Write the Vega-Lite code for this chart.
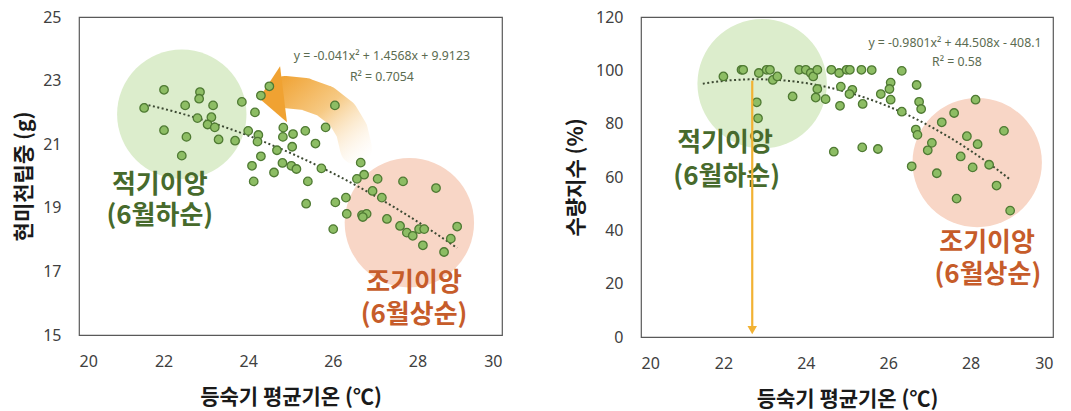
{
  "$schema": "https://vega.github.io/schema/vega-lite/v6.json",
  "background": "white",
  "autosize": {"type": "pad"},
  "padding": {"left": 13, "top": 8, "right": 5, "bottom": 5},
  "bounds": "flush",
  "spacing": 139,
  "datasets": {
    "grainPts": [
      {"temp": 21.54, "grain": 22.14}, {"temp": 22.01, "grain": 22.71}, {"temp": 22.86, "grain": 22.64}, {"temp": 22.84, "grain": 22.43},
      {"temp": 22.51, "grain": 22.22}, {"temp": 23.17, "grain": 22.22}, {"temp": 23.85, "grain": 22.33}, {"temp": 24.50, "grain": 22.82},
      {"temp": 24.30, "grain": 22.53}, {"temp": 24.16, "grain": 22.00}, {"temp": 22.80, "grain": 21.82}, {"temp": 23.13, "grain": 21.85},
      {"temp": 23.04, "grain": 21.62}, {"temp": 23.21, "grain": 21.53}, {"temp": 22.01, "grain": 21.44}, {"temp": 22.54, "grain": 21.23},
      {"temp": 23.30, "grain": 21.15}, {"temp": 23.69, "grain": 21.11}, {"temp": 24.00, "grain": 21.42}, {"temp": 24.24, "grain": 21.29},
      {"temp": 24.22, "grain": 21.08}, {"temp": 24.83, "grain": 21.52}, {"temp": 24.82, "grain": 21.23}, {"temp": 25.06, "grain": 21.32},
      {"temp": 25.35, "grain": 21.42}, {"temp": 25.83, "grain": 21.53}, {"temp": 25.59, "grain": 21.02}, {"temp": 25.04, "grain": 20.92},
      {"temp": 24.68, "grain": 20.81}, {"temp": 24.30, "grain": 20.62}, {"temp": 22.43, "grain": 20.64}, {"temp": 24.09, "grain": 20.32},
      {"temp": 24.13, "grain": 19.83}, {"temp": 24.61, "grain": 20.11}, {"temp": 24.81, "grain": 20.41}, {"temp": 25.02, "grain": 20.32},
      {"temp": 25.14, "grain": 20.22}, {"temp": 25.73, "grain": 20.24}, {"temp": 25.41, "grain": 19.83}, {"temp": 25.37, "grain": 19.13},
      {"temp": 26.05, "grain": 22.22}, {"temp": 26.66, "grain": 20.42}, {"temp": 26.74, "grain": 20.04}, {"temp": 26.57, "grain": 19.91},
      {"temp": 27.06, "grain": 19.91}, {"temp": 27.66, "grain": 19.83}, {"temp": 28.44, "grain": 19.62}, {"temp": 26.94, "grain": 19.53},
      {"temp": 27.16, "grain": 19.32}, {"temp": 26.31, "grain": 19.32}, {"temp": 26.06, "grain": 19.17}, {"temp": 26.33, "grain": 18.81},
      {"temp": 26.69, "grain": 18.77}, {"temp": 26.80, "grain": 18.81}, {"temp": 26.71, "grain": 18.71}, {"temp": 27.28, "grain": 18.65},
      {"temp": 27.59, "grain": 18.43}, {"temp": 27.75, "grain": 18.22}, {"temp": 27.89, "grain": 18.12}, {"temp": 28.04, "grain": 18.33},
      {"temp": 28.16, "grain": 18.33}, {"temp": 28.94, "grain": 18.41}, {"temp": 28.79, "grain": 18.03}, {"temp": 28.13, "grain": 17.82},
      {"temp": 28.63, "grain": 17.61}, {"temp": 26.01, "grain": 18.33}
    ],
    "yieldPts": [
      {"temp": 22.00, "yield": 97.7}, {"temp": 22.44, "yield": 100.2}, {"temp": 22.48, "yield": 100.2}, {"temp": 22.86, "yield": 99.0},
      {"temp": 23.05, "yield": 100.2}, {"temp": 23.13, "yield": 100.2}, {"temp": 23.20, "yield": 96.4}, {"temp": 23.31, "yield": 97.7},
      {"temp": 22.81, "yield": 88.0}, {"temp": 22.84, "yield": 82.0}, {"temp": 23.84, "yield": 100.2}, {"temp": 24.00, "yield": 100.2},
      {"temp": 24.12, "yield": 99.0}, {"temp": 24.18, "yield": 97.7}, {"temp": 24.28, "yield": 100.2}, {"temp": 24.28, "yield": 93.0},
      {"temp": 23.68, "yield": 90.2}, {"temp": 24.24, "yield": 89.8}, {"temp": 24.48, "yield": 89.2}, {"temp": 24.62, "yield": 100.2},
      {"temp": 24.81, "yield": 99.0}, {"temp": 24.99, "yield": 100.2}, {"temp": 25.07, "yield": 100.2}, {"temp": 25.35, "yield": 100.2},
      {"temp": 24.85, "yield": 93.9}, {"temp": 25.13, "yield": 92.7}, {"temp": 25.06, "yield": 91.1}, {"temp": 24.83, "yield": 86.7},
      {"temp": 25.38, "yield": 87.4}, {"temp": 24.68, "yield": 69.5}, {"temp": 25.37, "yield": 71.1}, {"temp": 25.75, "yield": 70.5},
      {"temp": 25.60, "yield": 100.1}, {"temp": 26.33, "yield": 99.8}, {"temp": 26.06, "yield": 95.4}, {"temp": 26.03, "yield": 93.0},
      {"temp": 26.69, "yield": 94.5}, {"temp": 25.82, "yield": 91.1}, {"temp": 26.06, "yield": 89.0}, {"temp": 26.75, "yield": 88.2},
      {"temp": 26.80, "yield": 85.5}, {"temp": 26.33, "yield": 84.5}, {"temp": 28.12, "yield": 89.0}, {"temp": 27.60, "yield": 84.0},
      {"temp": 27.30, "yield": 80.5}, {"temp": 26.67, "yield": 77.8}, {"temp": 26.71, "yield": 75.8}, {"temp": 27.91, "yield": 75.3},
      {"temp": 28.81, "yield": 77.3}, {"temp": 28.17, "yield": 72.3}, {"temp": 27.06, "yield": 72.8}, {"temp": 26.96, "yield": 70.0},
      {"temp": 27.76, "yield": 67.7}, {"temp": 26.57, "yield": 64.0}, {"temp": 27.18, "yield": 61.4}, {"temp": 28.05, "yield": 63.6},
      {"temp": 28.45, "yield": 64.6}, {"temp": 28.63, "yield": 56.8}, {"temp": 27.66, "yield": 51.9}, {"temp": 28.96, "yield": 47.4}
    ]
  },
  "hconcat": [
    {
      "width": 423,
      "height": 318,
      "encoding": {
        "x": {
          "field": "temp", "type": "quantitative",
          "scale": {"domain": [20, 30], "nice": false, "zero": false},
          "axis": {"values": [20, 22, 24, 26, 28, 30], "title": "등숙기 평균기온 (℃)", "titlePadding": 17}
        },
        "y": {
          "field": "grain", "type": "quantitative",
          "scale": {"domain": [15, 25], "nice": false, "zero": false},
          "axis": {"values": [15, 17, 19, 21, 23, 25], "title": "현미천립중 (g)", "titlePadding": 8}
        }
      },
      "layer": [
        {
          "data": {"values": [{"temp": 22.43, "grain": 21.94}]},
          "mark": {"type": "point", "shape": "circle", "filled": true, "size": 16742, "color": "#dcedcc", "opacity": 1}
        },
        {
          "data": {"values": [{"temp": 27.81, "grain": 18.53}]},
          "mark": {"type": "point", "shape": "circle", "filled": true, "size": 16742, "color": "#f8d6c6", "opacity": 1}
        },
        {
          "data": {"values": [
            {"step": 1, "temp": 24.87, "grain": 22.64},
            {"step": 2, "temp": 25.34, "grain": 22.58},
            {"step": 3, "temp": 25.82, "grain": 22.35},
            {"step": 4, "temp": 26.22, "grain": 21.94},
            {"step": 5, "temp": 26.45, "grain": 21.43},
            {"step": 6, "temp": 26.55, "grain": 20.86}
          ]},
          "mark": {
            "type": "trail",
            "color": {
              "gradient": "linear", "x1": 0, "y1": 0.1, "x2": 0.9, "y2": 1,
              "stops": [
                {"offset": 0, "color": "#f0a232"},
                {"offset": 0.45, "color": "#f6c983"},
                {"offset": 1, "color": "rgba(253,240,222,0)"}
              ]
            }
          },
          "encoding": {"order": {"field": "step", "type": "quantitative"}, "size": {"value": 32}}
        },
        {
          "data": {"values": [{"temp": 24.64, "grain": 22.53}]},
          "mark": {"type": "point", "filled": true, "opacity": 1, "color": "#f0a232", "size": 3600,
                   "shape": "M0.16,-0.98L-0.54,0.09L0.39,0.89Z"}
        },
        {
          "data": {"name": "grainPts"},
          "transform": [{"regression": "grain", "on": "temp", "method": "poly", "order": 2, "extent": [21.54, 28.94]}],
          "mark": {"type": "line", "color": "#3d4a33", "strokeWidth": 2, "strokeDash": [2, 2.5]}
        },
        {
          "data": {"name": "grainPts"},
          "mark": {"type": "point", "shape": "circle", "filled": true, "size": 72, "fill": "#8dbd64", "stroke": "#4f7a33", "strokeWidth": 1.3, "opacity": 1}
        },
        {
          "data": {"values": [
            {"temp": 27.16, "grain": 23.78, "label": "y = -0.041x² + 1.4568x + 9.9123"},
            {"temp": 27.16, "grain": 23.11, "label": "R² = 0.7054"}
          ]},
          "mark": {"type": "text", "font": "Noto Sans", "fontSize": 12.3, "color": "#5b6b50"},
          "encoding": {"text": {"field": "label"}}
        },
        {
          "data": {"values": [
            {"temp": 21.91, "grain": 19.73, "label": "적기이앙", "grp": "적기"},
            {"temp": 21.91, "grain": 18.73, "label": "(6월하순)", "grp": "적기"},
            {"temp": 27.92, "grain": 16.64, "label": "조기이앙", "grp": "조기"},
            {"temp": 27.92, "grain": 15.63, "label": "(6월상순)", "grp": "조기"}
          ]},
          "mark": {"type": "text", "font": "Noto Sans CJK KR", "fontSize": 26, "fontWeight": "bold"},
          "encoding": {
            "text": {"field": "label"},
            "color": {"field": "grp", "type": "nominal", "scale": {"domain": ["적기", "조기"], "range": ["#476a2c", "#c65c2a"]}, "legend": null}
          }
        }
      ]
    },
    {
      "width": 412,
      "height": 320,
      "encoding": {
        "x": {
          "field": "temp", "type": "quantitative",
          "scale": {"domain": [20, 30], "nice": false, "zero": false},
          "axis": {"values": [20, 22, 24, 26, 28, 30], "title": "등숙기 평균기온 (℃)", "titlePadding": 17}
        },
        "y": {
          "field": "yield", "type": "quantitative",
          "scale": {"domain": [0, 120], "nice": false, "zero": false},
          "axis": {"values": [0, 20, 40, 60, 80, 100, 120], "title": "수량지수 (%)", "titlePadding": 9}
        }
      },
      "layer": [
        {
          "data": {"values": [{"temp": 22.94, "yield": 95.0}]},
          "mark": {"type": "point", "shape": "circle", "filled": true, "size": 16742, "color": "#dcedcc", "opacity": 1}
        },
        {
          "data": {"values": [{"temp": 28.16, "yield": 65.4}]},
          "mark": {"type": "point", "shape": "circle", "filled": true, "size": 16742, "color": "#f8d6c6", "opacity": 1}
        },
        {
          "data": {"name": "yieldPts"},
          "transform": [{"regression": "yield", "on": "temp", "method": "poly", "order": 2, "extent": [21.5, 28.96]}],
          "mark": {"type": "line", "color": "#3d4a33", "strokeWidth": 2, "strokeDash": [2, 2.5]}
        },
        {
          "data": {"name": "yieldPts"},
          "mark": {"type": "point", "shape": "circle", "filled": true, "size": 72, "fill": "#8dbd64", "stroke": "#4f7a33", "strokeWidth": 1.3, "opacity": 1}
        },
        {
          "data": {"values": [
            {"temp": 27.62, "yield": 110.3, "label": "y = -0.9801x² + 44.508x - 408.1"},
            {"temp": 27.67, "yield": 103.0, "label": "R² = 0.58"}
          ]},
          "mark": {"type": "text", "font": "Noto Sans", "fontSize": 12.3, "color": "#5b6b50"},
          "encoding": {"text": {"field": "label"}}
        },
        {
          "data": {"values": [
            {"temp": 22.04, "yield": 72.75, "label": "적기이앙", "grp": "적기"},
            {"temp": 22.08, "yield": 60.0, "label": "(6월하순)", "grp": "적기"},
            {"temp": 28.40, "yield": 35.25, "label": "조기이앙", "grp": "조기"},
            {"temp": 28.42, "yield": 23.25, "label": "(6월상순)", "grp": "조기"}
          ]},
          "mark": {"type": "text", "font": "Noto Sans CJK KR", "fontSize": 26, "fontWeight": "bold"},
          "encoding": {
            "text": {"field": "label"},
            "color": {"field": "grp", "type": "nominal", "scale": {"domain": ["적기", "조기"], "range": ["#476a2c", "#c65c2a"]}, "legend": null}
          }
        },
        {
          "data": {"values": [{"temp": 22.7, "yield": 96.1, "bottom": 3}]},
          "mark": {"type": "rule", "color": "#f2b233", "strokeWidth": 2.2},
          "encoding": {"y2": {"field": "bottom"}}
        },
        {
          "data": {"values": [{"temp": 22.7, "yield": 2.6}]},
          "mark": {"type": "point", "shape": "triangle-down", "filled": true, "size": 90, "color": "#f2b233", "opacity": 1}
        }
      ]
    }
  ],
  "config": {
    "view": {"stroke": "#595959", "strokeWidth": 1.2},
    "axis": {
      "domain": false, "ticks": false, "grid": false,
      "labelFont": "Noto Sans", "labelFontSize": 16, "labelColor": "#404040", "labelPadding": 18,
      "titleFont": "Noto Sans CJK KR", "titleFontSize": 21, "titleFontWeight": "bold", "titleColor": "#1a1a1a"
    }
  }
}
